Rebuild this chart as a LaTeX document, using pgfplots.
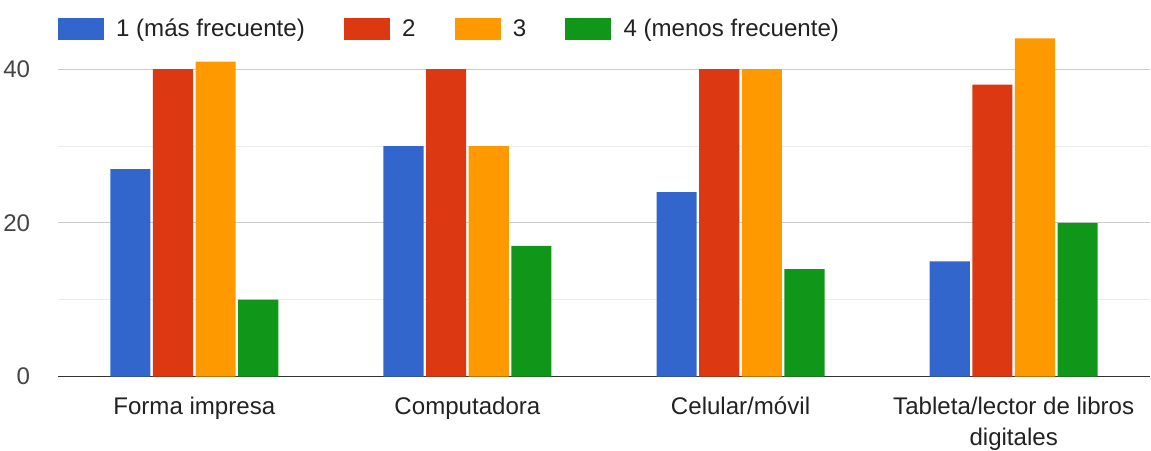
\documentclass[border=0pt]{standalone}
\usepackage{pgfplots}
\pgfplotsset{compat=1.18}
\usepackage{fontspec}
\setmainfont{Liberation Sans}

\definecolor{cA}{HTML}{3366CC}
\definecolor{cB}{HTML}{DC3912}
\definecolor{cC}{HTML}{FF9900}
\definecolor{cD}{HTML}{109618}
\definecolor{txt}{HTML}{222222}
\definecolor{ytxt}{HTML}{444444}

\pgfplotsset{legsq/.style={legend image code/.code={\fill[##1] (0pt,-11pt) rectangle (46pt,11pt);}}}

\begin{document}
\begin{tikzpicture}
\begin{axis}[
    scale only axis,
    width=1089pt, height=337pt,
    xmin=-0.5, xmax=3.5,
    ymin=0, ymax=44,
    ybar=2.5pt, bar width=40pt,
    xtick=data,
    xticklabels={Forma impresa, Computadora, Celular/móvil, {Tableta/lector de libros\\digitales}},
    xticklabel style={align=center, text=txt, font=\fontsize{24}{31}\selectfont,
      inner ysep=0pt, yshift=-16pt},
    ytick={0,20,40}, minor ytick={10,30},
    yticklabel style={text=ytxt, font=\fontsize{24}{29}\selectfont, xshift=-24pt,
      /pgf/number format/assume math mode=true},
    ymajorgrids, yminorgrids,
    major grid style={draw=black!20, line width=1pt},
    minor grid style={draw=black!8, line width=1pt},
    axis x line*=bottom, axis y line*=left,
    y axis line style={draw=none},
    x axis line style={draw=black!80, line width=1.5pt},
    tick style={draw=none},
    legend columns=4,
    legend style={draw=none, at={(0,1)}, anchor=south west, xshift=0pt, yshift=-19pt,
      inner xsep=0pt, inner ysep=17pt,
      font=\fontsize{24}{29}\selectfont, text=txt,
      /tikz/every odd column/.append style={column sep=10pt},
      /tikz/every even column/.append style={column sep=37pt}},
]
\addplot[fill=cA, draw=none, legsq] coordinates {(0,27) (1,30) (2,24) (3,15)};
\addlegendentry{1 (más frecuente)}
\addplot[fill=cB, draw=none, legsq] coordinates {(0,40) (1,40) (2,40) (3,38)};
\addlegendentry{2}
\addplot[fill=cC, draw=none, legsq] coordinates {(0,41) (1,30) (2,40) (3,44)};
\addlegendentry{3}
\addplot[fill=cD, draw=none, legsq] coordinates {(0,10) (1,17) (2,14) (3,20)};
\addlegendentry{4 (menos frecuente)}
\end{axis}
\end{tikzpicture}
\end{document}
